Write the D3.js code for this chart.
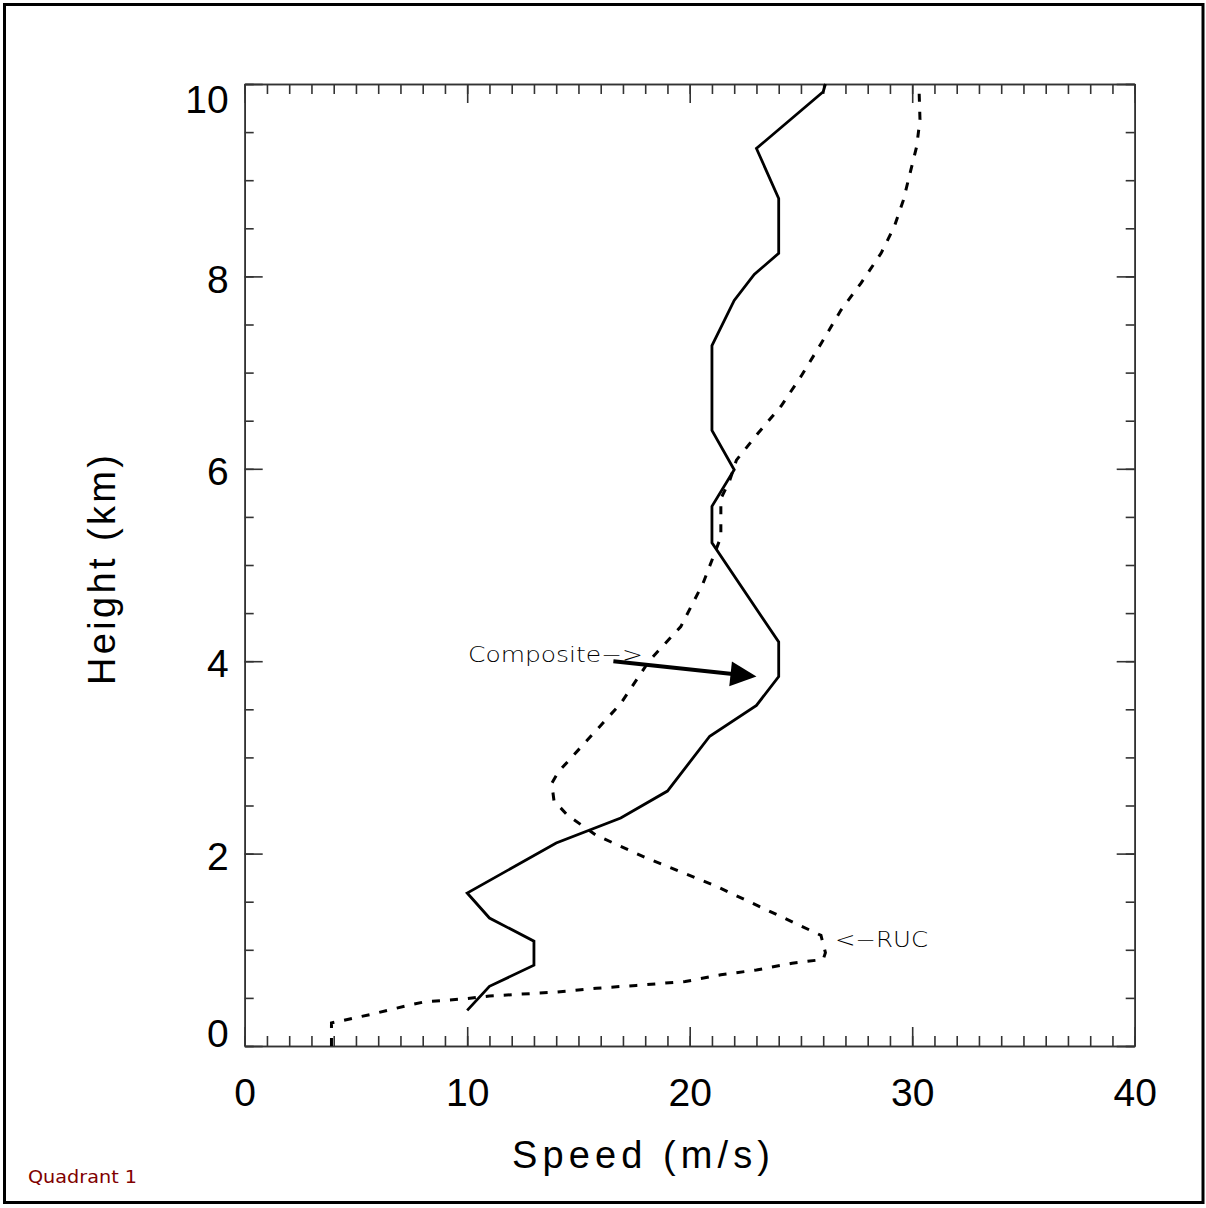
<!DOCTYPE html>
<html>
<head>
<meta charset="utf-8">
<script src="https://cdn.jsdelivr.net/npm/d3@7"></script>
<style>
  html, body { margin: 0; padding: 0; background: #fff; }
  svg { display: block; }
</style>
</head>
<body>
<svg id="chart" width="1206" height="1208"></svg>
<script>
// ---------------- data ----------------
const compositeSpeed  = [10.0, 11.0, 13.0, 13.0, 11.0, 10.0, 14.0, 16.9, 19.0, 20.9, 23.0, 24.0, 24.0, 21.0, 21.0, 22.0, 21.0, 21.0, 22.0, 22.9, 24.0, 24.0, 23.0, 26.0, 26.1];
const compositeHeight = [0.37, 0.62, 0.84, 1.09, 1.33, 1.59, 2.11, 2.37, 2.65, 3.22, 3.54, 3.84, 4.20, 5.23, 5.61, 5.99, 6.40, 7.28, 7.75, 8.02, 8.24, 8.81, 9.33, 9.92, 10.0];

const rucSpeed  = [3.9, 3.9, 5.7, 7.3, 8.1, 9.9, 11.0, 14.0, 15.8, 17.6, 19.8, 21.4, 23.0, 24.6, 26.0, 26.1, 25.9, 21.2, 18.1, 15.8, 14.5, 13.9, 13.8, 14.1, 15.4, 16.9, 18.2, 19.6, 20.6, 21.0, 21.4, 21.4, 21.8, 22.1, 23.0, 24.1, 25.0, 25.9, 26.8, 27.7, 28.6, 29.2, 29.6, 29.9, 30.2, 30.35, 30.3];
const rucHeight = [0.00, 0.24, 0.33, 0.42, 0.46, 0.49, 0.52, 0.56, 0.60, 0.63, 0.67, 0.74, 0.79, 0.86, 0.90, 0.97, 1.15, 1.66, 1.95, 2.19, 2.40, 2.55, 2.73, 2.85, 3.18, 3.56, 4.01, 4.36, 4.81, 5.05, 5.29, 5.69, 5.88, 6.09, 6.35, 6.65, 6.96, 7.30, 7.65, 7.93, 8.24, 8.52, 8.79, 9.07, 9.35, 9.63, 10.0];

const xMajorTicks = [0, 10, 20, 30, 40];
const xMinorTicks = d3.range(0, 41, 1);
const yMajorTicks = [0, 2, 4, 6, 8, 10];
const yMinorTicks = d3.range(0, 10.01, 0.5);

const xTitle = "Speed (m/s)";
const yTitle = "Height (km)";
const compositeLabel = "Composite\u2212>";
const rucLabel = "<\u2212RUC";
const panelLabel = "Quadrant 1";

// arrow (data coords): from label to composite profile
const arrowFrom = [16.57, 4.0];
const arrowTo   = [23.0, 3.84];

// ---------------- drawing ----------------
const svg = d3.select("#chart");
const L = 244.7, R = 1134.7, T = 84, B = 1046;
const x = d3.scaleLinear().domain([0, 40]).range([L, R]);
const y = d3.scaleLinear().domain([0, 10]).range([B, T]);

// outer frame
svg.append("rect").attr("x", 0).attr("y", 0).attr("width", 1206).attr("height", 1208).attr("fill", "#fff");
svg.append("rect")
  .attr("x", 4.5).attr("y", 4.5).attr("width", 1198.5).attr("height", 1198)
  .attr("fill", "none").attr("stroke", "#000").attr("stroke-width", 3);

const axisColor = "#333";
function styleAxis(g) {
  g.selectAll("path.domain").attr("stroke", axisColor).attr("stroke-width", 1.6);
  g.selectAll(".tick line").attr("stroke", axisColor).attr("stroke-width", 1.6);
}

// minor ticks
svg.append("g").attr("transform", `translate(0,${B})`)
  .call(d3.axisBottom(x).tickValues(xMinorTicks).tickSize(-10).tickSizeOuter(0).tickFormat(""))
  .call(styleAxis);
svg.append("g").attr("transform", `translate(0,${T})`)
  .call(d3.axisTop(x).tickValues(xMinorTicks).tickSize(-10).tickSizeOuter(0).tickFormat(""))
  .call(styleAxis);
svg.append("g").attr("transform", `translate(${L},0)`)
  .call(d3.axisLeft(y).tickValues(yMinorTicks).tickSize(-9).tickSizeOuter(0).tickFormat(""))
  .call(styleAxis);
svg.append("g").attr("transform", `translate(${R},0)`)
  .call(d3.axisRight(y).tickValues(yMinorTicks).tickSize(-9).tickSizeOuter(0).tickFormat(""))
  .call(styleAxis);

// major ticks
const labelFont = "'Liberation Sans', Arial, sans-serif";
const gxB = svg.append("g").attr("transform", `translate(0,${B})`)
  .call(d3.axisBottom(x).tickValues(xMajorTicks).tickSize(-19).tickSizeOuter(0).tickPadding(32).tickFormat(d3.format("d")))
  .call(styleAxis);
gxB.selectAll("text").attr("font-family", labelFont).attr("font-size", 39).attr("fill", "#000");

svg.append("g").attr("transform", `translate(0,${T})`)
  .call(d3.axisTop(x).tickValues(xMajorTicks).tickSize(-19).tickSizeOuter(0).tickFormat(""))
  .call(styleAxis);

const gyL = svg.append("g").attr("transform", `translate(${L},0)`)
  .call(d3.axisLeft(y).tickValues(yMajorTicks).tickSize(-18).tickSizeOuter(0).tickPadding(16).tickFormat(d3.format("d")))
  .call(styleAxis);
gyL.selectAll("text")
  .attr("font-family", labelFont).attr("font-size", 39).attr("fill", "#000")
  .attr("dy", d => d === 10 ? "0.72em" : (d === 0 ? "0em" : "0.40em"));

svg.append("g").attr("transform", `translate(${R},0)`)
  .call(d3.axisRight(y).tickValues(yMajorTicks).tickSize(-18).tickSizeOuter(0).tickFormat(""))
  .call(styleAxis);

// axis titles
svg.append("text")
  .attr("x", 512).attr("y", 1168)
  .attr("text-anchor", "start")
  .attr("font-family", labelFont).attr("font-size", 38)
  .attr("textLength", 258).attr("lengthAdjust", "spacing")
  .text(xTitle);
svg.append("text")
  .attr("transform", "translate(115,685) rotate(-90)")
  .attr("text-anchor", "start")
  .attr("font-family", labelFont).attr("font-size", 38)
  .attr("textLength", 230).attr("lengthAdjust", "spacing")
  .text(yTitle);

// lines
const line = d3.line().x(d => x(d[0])).y(d => y(d[1]));
const compositeData = compositeSpeed.map((s, i) => [s, compositeHeight[i]]);
const rucData = rucSpeed.map((s, i) => [s, rucHeight[i]]);

svg.append("path").datum(rucData)
  .attr("d", line).attr("fill", "none").attr("stroke", "#000")
  .attr("stroke-width", 3).attr("stroke-dasharray", "8,10");

svg.append("path").datum(compositeData)
  .attr("d", line).attr("fill", "none").attr("stroke", "#000")
  .attr("stroke-width", 2.8).attr("stroke-linejoin", "miter");

// arrow
const ax0 = x(arrowFrom[0]), ay0 = y(arrowFrom[1]);
const ax1 = x(arrowTo[0]), ay1 = y(arrowTo[1]);
const len = Math.hypot(ax1 - ax0, ay1 - ay0);
const ux = (ax1 - ax0) / len, uy = (ay1 - ay0) / len;
const headLen = 26, headHalf = 12.5;
const bx = ax1 - ux * headLen, by = ay1 - uy * headLen;
svg.append("line")
  .attr("x1", ax0).attr("y1", ay0).attr("x2", bx + ux * 2).attr("y2", by + uy * 2)
  .attr("stroke", "#000").attr("stroke-width", 4);
svg.append("path")
  .attr("d", `M${ax1},${ay1} L${bx - uy * headHalf},${by + ux * headHalf} L${bx + uy * headHalf},${by - ux * headHalf} Z`)
  .attr("fill", "#000");

// annotations
const annFont = "'DejaVu Sans', 'Liberation Sans', sans-serif";
svg.append("text")
  .attr("x", 468).attr("y", 662)
  .attr("font-family", annFont).attr("font-weight", 200).attr("font-size", 21).attr("fill", "#000")
  .attr("textLength", 175).attr("lengthAdjust", "spacingAndGlyphs")
  .text(compositeLabel);
svg.append("text")
  .attr("x", 835).attr("y", 947)
  .attr("font-family", annFont).attr("font-weight", 200).attr("font-size", 21).attr("fill", "#000")
  .attr("textLength", 93).attr("lengthAdjust", "spacingAndGlyphs")
  .text(rucLabel);
svg.append("text")
  .attr("x", 28).attr("y", 1183)
  .attr("font-family", annFont).attr("font-size", 18).attr("fill", "#800000")
  .attr("textLength", 109).attr("lengthAdjust", "spacingAndGlyphs")
  .text(panelLabel);
</script>
</body>
</html>
